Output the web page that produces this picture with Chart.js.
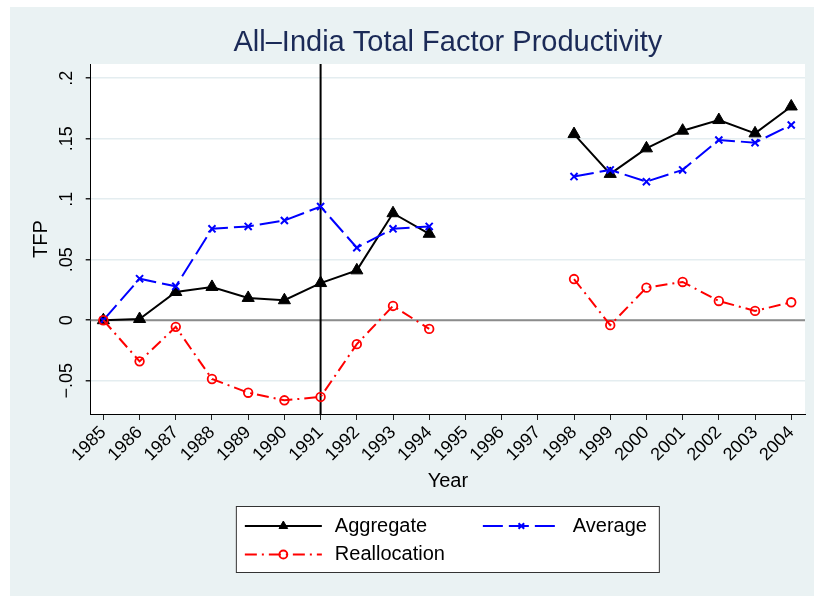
<!DOCTYPE html>
<html>
<head>
<meta charset="utf-8">
<script src="https://cdn.jsdelivr.net/npm/chart.js@4.4.1/dist/chart.umd.min.js"></script>
<style>
  html, body { margin: 0; padding: 0; background: #fff; overflow: hidden; }
  #panel { position: absolute; left: 10px; top: 7px; width: 810px; height: 600px; background: #eaf2f3; }
  canvas { display: block; }
</style>
</head>
<body>
<div id="panel"><canvas id="tfp" width="804" height="589"></canvas></div>
<script>
// data (1995-1997 missing)
const years = [1985, 1986, 1987, 1988, 1989, 1990, 1991, 1992, 1993, 1994,
               1995, 1996, 1997, 1998, 1999, 2000, 2001, 2002, 2003, 2004];
const aggregate = [0, 0.001, 0.0233, 0.0275, 0.0184, 0.0165, 0.0307, 0.0412, 0.0884, 0.0714,
                   null, null, null, 0.1538, 0.1209, 0.142, 0.1566, 0.1654, 0.1544, 0.1766];
const average = [0, 0.0343, 0.028, 0.0755, 0.0775, 0.0824, 0.0939, 0.0599, 0.0755, 0.0775,
                 null, null, null, 0.1187, 0.1242, 0.1145, 0.1242, 0.1489, 0.1467, 0.1613];
const reallocation = [0, -0.034, -0.0055, -0.0486, -0.0599, -0.0662, -0.0634, -0.0198, 0.0118, -0.0072,
                      null, null, null, 0.034, -0.0041, 0.0269, 0.0316, 0.0159, 0.0077, 0.0148];
const yTicks = [-0.05, 0, 0.05, 0.1, 0.15, 0.2];
const yTickLabels = ['\u2212.05', '0', '.05', '.1', '.15', '.2'];
const reformYear = 1991;

Chart.defaults.font.family = '"Liberation Sans", Arial, Helvetica, sans-serif';

const toPoints = vals => years.map((yr, i) => ({ x: yr, y: vals[i] }));

const plotBackground = {
  id: 'plotBackground',
  beforeDraw(chart) {
    const { ctx, chartArea: a } = chart;
    ctx.save();
    ctx.fillStyle = '#fff';
    ctx.fillRect(a.left, a.top, a.right - a.left, a.bottom - a.top);
    ctx.restore();
  }
};

// yline(0) and xline(1991)
const refLines = {
  id: 'refLines',
  beforeDatasetsDraw(chart) {
    const { ctx, chartArea: a, scales } = chart;
    const y0 = scales.y.getPixelForValue(0);
    const x91 = scales.x.getPixelForValue(reformYear);
    ctx.save();
    ctx.lineWidth = 2;
    ctx.strokeStyle = '#8c8c8c';
    ctx.beginPath();
    ctx.moveTo(a.left, y0);
    ctx.lineTo(a.right, y0);
    ctx.stroke();
    ctx.strokeStyle = '#000';
    ctx.beginPath();
    ctx.moveTo(x91, a.top);
    ctx.lineTo(x91, a.bottom);
    ctx.stroke();
    ctx.restore();
  }
};

const legendBox = {
  id: 'legendBox',
  afterDraw(chart) {
    const { ctx, chartArea: a } = chart;
    const w = 424, h = 67;
    const left = (a.left + a.right) / 2 - w / 2;
    const top = a.bottom + 92;
    ctx.save();
    ctx.fillStyle = '#fff';
    ctx.fillRect(left, top, w, h);
    ctx.strokeStyle = '#333';
    ctx.lineWidth = 1;
    ctx.strokeRect(left + 0.5, top + 0.5, w - 1, h - 1);

    const slots = [
      { ds: 0, x: left + 9, y: top + 20, r: 5 },
      { ds: 1, x: left + 247, y: top + 20, r: 4 },
      { ds: 2, x: left + 9, y: top + 48.5, r: 4 }
    ];
    ctx.font = '20px "Liberation Sans", Arial, sans-serif';
    ctx.textBaseline = 'middle';
    slots.forEach(s => {
      const d = chart.data.datasets[s.ds];
      ctx.strokeStyle = d.borderColor;
      ctx.lineWidth = d.borderWidth;
      ctx.setLineDash(d.borderDash || []);
      ctx.beginPath();
      ctx.moveTo(s.x, s.y);
      ctx.lineTo(s.x + 77, s.y);
      ctx.stroke();
      ctx.setLineDash([]);
      ctx.fillStyle = d.pointBackgroundColor;
      ctx.strokeStyle = d.pointBorderColor;
      ctx.lineWidth = d.pointBorderWidth;
      Chart.helpers.drawPoint(ctx, { pointStyle: d.pointStyle, radius: s.r, borderWidth: d.pointBorderWidth, rotation: 0 }, s.x + 38.5, s.y);
      ctx.fillStyle = '#000';
      ctx.fillText(d.label, s.x + 90, s.y);
    });
    ctx.restore();
  }
};

new Chart(document.getElementById('tfp'), {
  type: 'line',
  data: {
    datasets: [
      {
        label: 'Aggregate', data: toPoints(aggregate),
        borderColor: '#000', borderWidth: 2, borderDash: [],
        pointStyle: 'triangle', pointRadius: 7,
        pointBackgroundColor: '#000', pointBorderColor: '#000', pointBorderWidth: 1,
        order: 3
      },
      {
        label: 'Average', data: toPoints(average),
        borderColor: '#0000ff', borderWidth: 2, borderDash: [20, 6],
        pointStyle: 'crossRot', pointRadius: 5,
        pointBackgroundColor: '#0000ff', pointBorderColor: '#0000ff', pointBorderWidth: 2,
        order: 2
      },
      {
        label: 'Reallocation', data: toPoints(reallocation),
        borderColor: '#ff0000', borderWidth: 2, borderDash: [12, 5, 2, 5],
        pointStyle: 'circle', pointRadius: 4.3,
        pointBackgroundColor: 'rgba(0,0,0,0)', pointBorderColor: '#ff0000', pointBorderWidth: 1.8,
        order: 1
      }
    ]
  },
  options: {
    responsive: false,
    animation: false,
    devicePixelRatio: 1,
    spanGaps: false,
    layout: { padding: { top: 0, right: 9, bottom: 103, left: 0 } },
    plugins: {
      legend: { display: false },
      tooltip: { enabled: false },
      title: {
        display: true, fullSize: false,
        text: 'All\u2013India Total Factor Productivity',
        color: '#1b2a57',
        font: { size: 29, weight: 'normal' },
        padding: { top: 18.6, bottom: 3.6 }
      }
    },
    scales: {
      x: {
        type: 'linear', min: 1984.65, max: 2004.38,
        afterBuildTicks: s => { s.ticks = years.map(v => ({ value: v })); },
        afterFit: s => { s.height = 79; },
        border: { color: '#000', width: 1 },
        grid: { drawOnChartArea: false, tickColor: '#222', tickLength: 6 },
        ticks: {
          minRotation: 45, maxRotation: 45, padding: 2,
          color: '#000', font: { size: 18 },
          callback: v => String(v)
        },
        title: {
          display: true, text: 'Year', color: '#000',
          font: { size: 20 }, padding: { top: 0, bottom: 0 }
        }
      },
      y: {
        min: -0.0775, max: 0.2117,
        afterBuildTicks: s => { s.ticks = yTicks.map(v => ({ value: v })); },
        afterFit: s => { s.width = 80.7; },
        border: { color: '#000', width: 1 },
        grid: { color: '#e4edf0', lineWidth: 1.5, tickColor: '#222', tickLength: 5 },
        ticks: {
          minRotation: 90, maxRotation: 90, crossAlign: 'center', padding: 1,
          color: '#000', font: { size: 18 },
          callback: v => yTickLabels[yTicks.indexOf(v)]
        },
        title: {
          display: true, text: 'TFP', color: '#000',
          font: { size: 20 }, padding: { top: 19, bottom: 0 }
        }
      }
    }
  },
  plugins: [plotBackground, refLines, legendBox]
});
</script>
</body>
</html>
